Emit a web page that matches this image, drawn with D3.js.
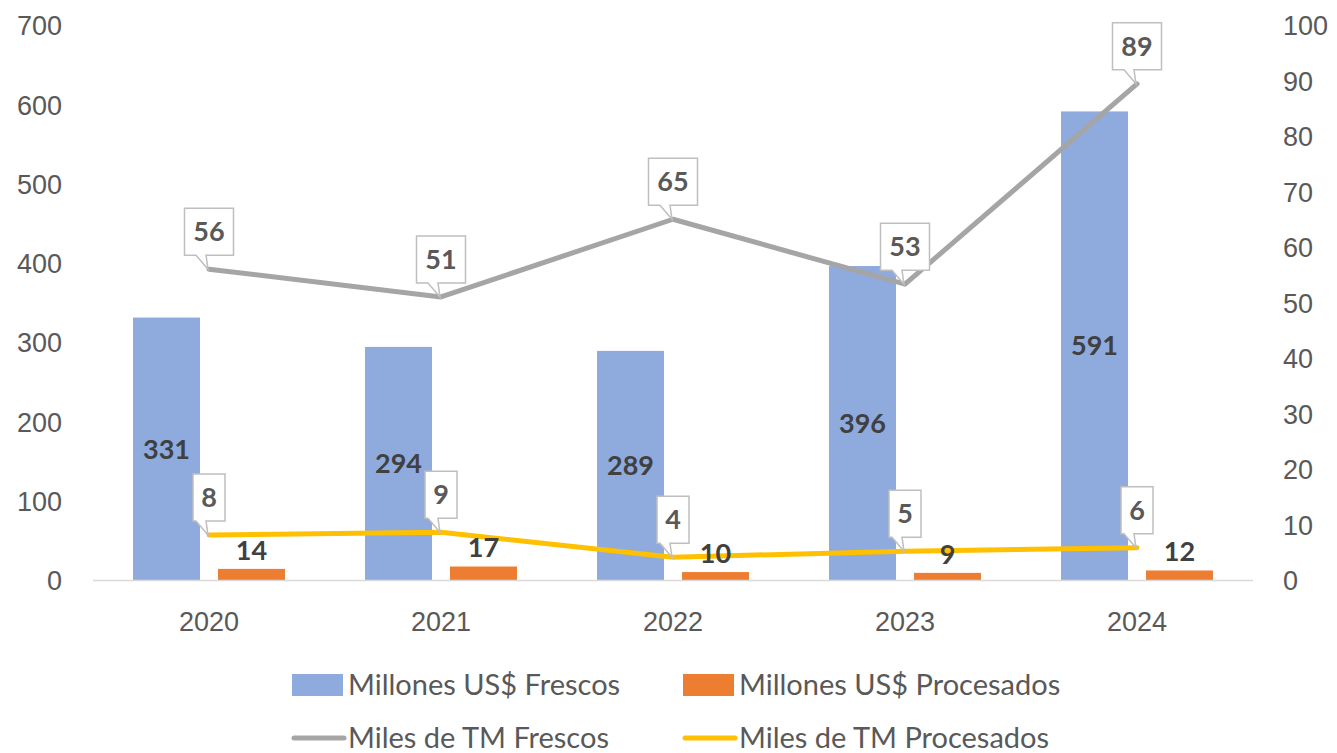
<!DOCTYPE html>
<meta charset="utf-8">
<style>
body { margin: 0; background: #fff; }
svg { font-family: Lato, "Open Sans", sans-serif; }
.axis text { font-size: 27px; fill: #595959; }
.axis path, .axis line { display: none; }
.barlabel { font-size: 27px; font-weight: bold; fill: #404040; }
.callout path { fill: #fff; stroke: #bfbfbf; stroke-width: 1.5px; }
.callout text { font-size: 27px; font-weight: bold; fill: #595959; }
.legend text { font-size: 29px; fill: #595959; }
</style>
<svg width="1337" height="753"></svg>
<script src="https://d3js.org/d3.v7.min.js"></script>
<script>

var years = ["2020", "2021", "2022", "2023", "2024"];
var usdFrescos = [331, 294, 289, 396, 591];
var usdProcesados = [14, 17, 10, 9, 12];
var tmFrescos = [56.0, 51.0, 65.0, 53.3, 89.4];
var tmProcesados = [8.1, 8.6, 4.1, 5.2, 5.8];
var leftTicks = [0, 100, 200, 300, 400, 500, 600, 700];
var rightTicks = [0, 10, 20, 30, 40, 50, 60, 70, 80, 90, 100];

var svg = d3.select("svg"),
    plotLeft = 93, plotRight = 1253, plotTop = 25, plotBottom = 580;

var x = d3.scaleBand()
    .domain(years)
    .range([plotLeft, plotRight])
    .paddingInner(0.345)
    .paddingOuter(0.345 / 2);

var x1 = d3.scaleBand()
    .domain(["f", "p"])
    .range([0, x.bandwidth()])
    .paddingInner(0.212);

var yL = d3.scaleLinear().domain([0, 700]).range([plotBottom, plotTop]);
var yR = d3.scaleLinear().domain([0, 100]).range([plotBottom, plotTop]);

function cx(d) { return x(d) + x.bandwidth() / 2; }

// axes
svg.append("g")
    .attr("class", "axis")
    .attr("transform", "translate(62,0)")
    .call(d3.axisLeft(yL).tickValues(leftTicks).tickSize(0).tickPadding(0))
    .selectAll("text").attr("dy", "0.36em");

svg.append("g")
    .attr("class", "axis")
    .attr("transform", "translate(1283,0)")
    .call(d3.axisRight(yR).tickValues(rightTicks).tickSize(0).tickPadding(0))
    .selectAll("text").attr("dy", "0.36em");

svg.append("g")
    .attr("class", "axis")
    .attr("transform", "translate(0," + plotBottom + ")")
    .call(d3.axisBottom(x).tickSize(0).tickPadding(0))
    .selectAll("text").attr("dy", "0").attr("y", 51);

// bars
var barData = [];
years.forEach(function(y, i) {
  barData.push({year: y, key: "f", v: usdFrescos[i], color: "#8faadc"});
  barData.push({year: y, key: "p", v: usdProcesados[i], color: "#ed7d31"});
});

svg.append("g").selectAll("rect")
  .data(barData)
  .enter().append("rect")
    .attr("x", function(d) { return x(d.year) + x1(d.key); })
    .attr("width", x1.bandwidth())
    .attr("y", function(d) { return yL(d.v); })
    .attr("height", function(d) { return plotBottom - yL(d.v); })
    .attr("fill", function(d) { return d.color; });

svg.append("line")
    .attr("x1", plotLeft).attr("x2", plotRight)
    .attr("y1", plotBottom + 0.5).attr("y2", plotBottom + 0.5)
    .attr("stroke", "#d9d9d9").attr("stroke-width", 1.5);

// lines
var line = d3.line()
    .x(function(d, i) { return cx(years[i]); })
    .y(function(d) { return yR(d); });

svg.append("path")
    .datum(tmFrescos)
    .attr("d", line)
    .attr("fill", "none").attr("stroke", "#a5a5a5")
    .attr("stroke-width", 5).attr("stroke-linejoin", "round").attr("stroke-linecap", "round");

svg.append("path")
    .datum(tmProcesados)
    .attr("d", line)
    .attr("fill", "none").attr("stroke", "#ffc000")
    .attr("stroke-width", 5).attr("stroke-linejoin", "round").attr("stroke-linecap", "round");

// bar labels
svg.append("g").selectAll("text")
  .data(barData)
  .enter().append("text")
    .attr("class", "barlabel")
    .attr("text-anchor", "middle")
    .attr("x", function(d) { return x(d.year) + x1(d.key) + x1.bandwidth() / 2; })
    .attr("y", function(d) {
      return d.key == "f" ? (yL(d.v) + plotBottom) / 2 : yL(d.v) - 19;
    })
    .attr("dy", "0.36em")
    .text(function(d) { return d.v; });

// callouts
function callouts(vals) {
  var g = svg.append("g").attr("class", "callout")
    .selectAll("g")
    .data(vals)
    .enter().append("g");

  g.each(function(d, i) {
    var el = d3.select(this),
        px = cx(years[i]) - 1,
        py = yR(d),
        label = String(Math.round(d)),
        w = label.length == 1 ? 32 : 49,
        h = 47,
        bx = px - w / 2 + 1,
        bb = py - 14,
        bt = bb - h;
    var p = "M" + bx + "," + bt + "H" + (bx + w) + "V" + bb +
      "H" + (px - 2) + "L" + px + "," + py + "L" + (px - 12) + "," + bb +
      "H" + bx + "Z";
    el.append("path").attr("d", p);
    el.append("text")
      .attr("text-anchor", "middle")
      .attr("x", bx + w / 2)
      .attr("y", bt + h / 2)
      .attr("dy", "0.36em")
      .text(label);
  });
}
callouts(tmFrescos);
callouts(tmProcesados);

// legend
var legend = [
  {name: "Millones US$ Frescos", color: "#8faadc", type: "rect", x: 292, y: 685},
  {name: "Millones US$ Procesados", color: "#ed7d31", type: "rect", x: 683, y: 685},
  {name: "Miles de TM Frescos", color: "#a5a5a5", type: "line", x: 292, y: 738},
  {name: "Miles de TM Procesados", color: "#ffc000", type: "line", x: 683, y: 738}
];

var lg = svg.append("g").attr("class", "legend")
  .selectAll("g")
  .data(legend)
  .enter().append("g")
    .attr("transform", function(d) { return "translate(" + d.x + "," + d.y + ")"; });

lg.filter(function(d) { return d.type == "rect"; })
  .append("rect")
    .attr("x", 0).attr("y", -11).attr("width", 51).attr("height", 22)
    .attr("fill", function(d) { return d.color; });

lg.filter(function(d) { return d.type == "line"; })
  .append("line")
    .attr("x1", 2).attr("x2", 52).attr("y1", 0).attr("y2", 0)
    .attr("stroke", function(d) { return d.color; })
    .attr("stroke-width", 5).attr("stroke-linecap", "round");

lg.append("text")
    .attr("x", 56)
    .attr("dy", "0.36em")
    .text(function(d) { return d.name; });

</script>
